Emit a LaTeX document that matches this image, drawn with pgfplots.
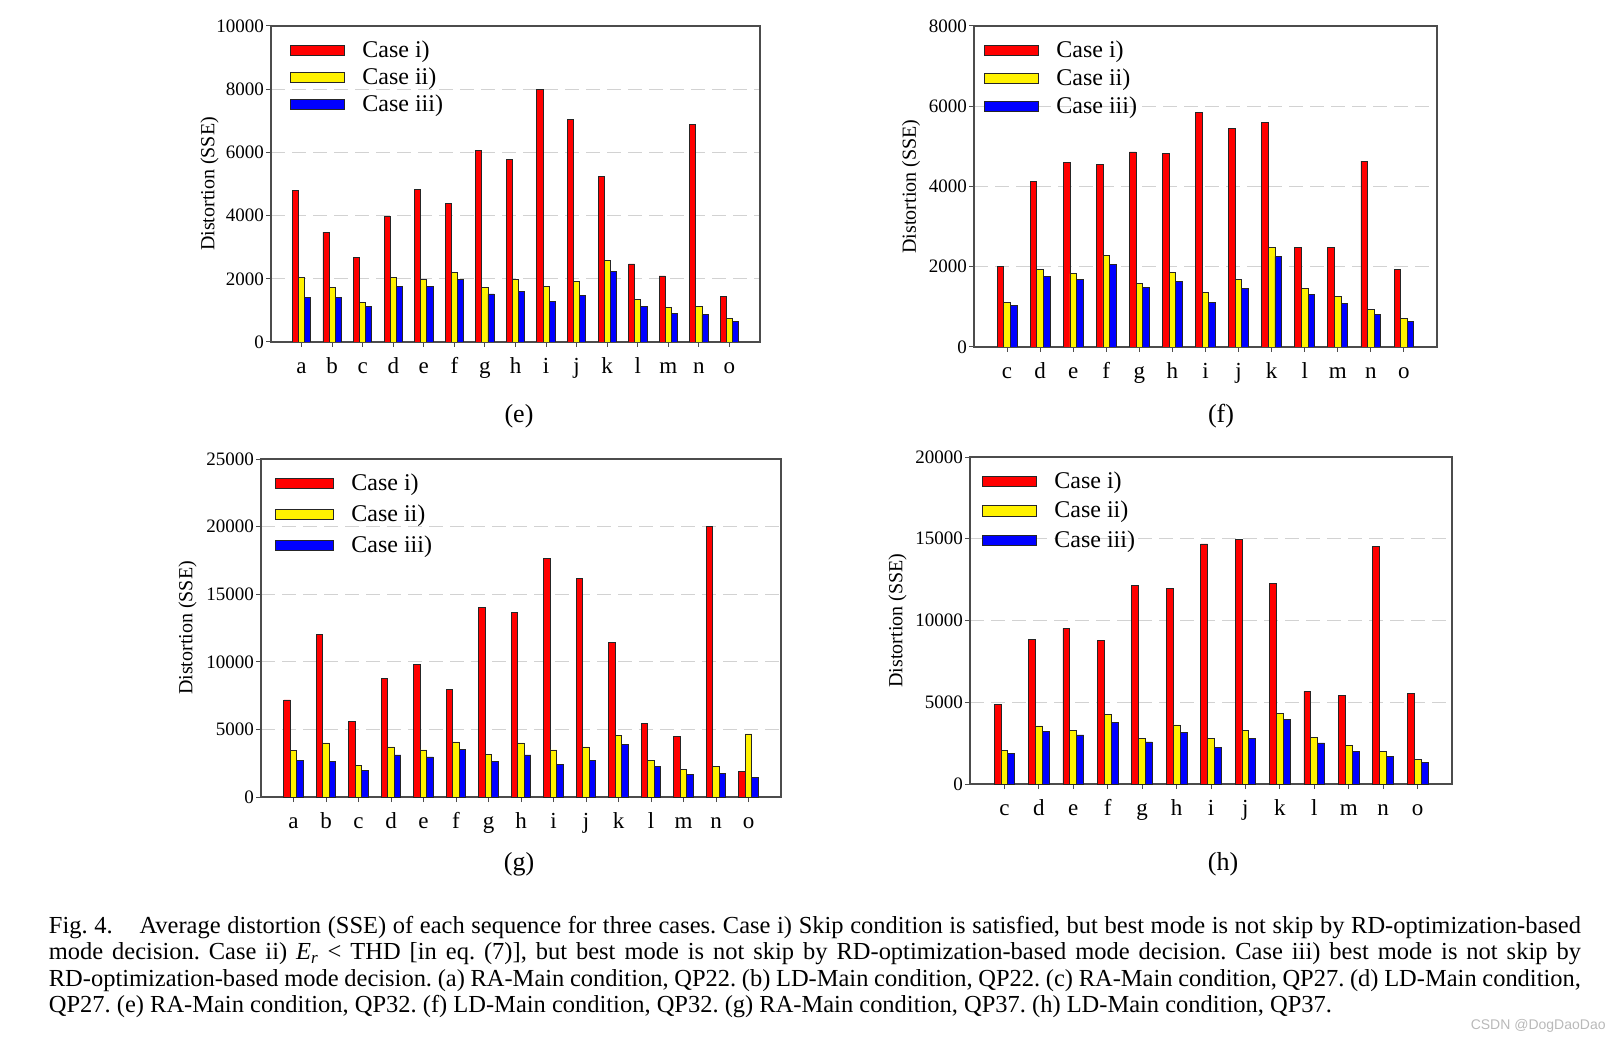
\documentclass[border=0pt]{standalone}
\usepackage{fontspec}
\setmainfont{Liberation Serif}
\setsansfont{Liberation Sans}
\usepackage{pgfplots}
\pgfplotsset{compat=1.18}
\usepackage{pgfplotstable}

\pgfplotstableread{
cat r y b
a 4790 2030 1420
b 3480 1740 1420
c 2670 1260 1130
d 3960 2030 1750
e 4830 1990 1750
f 4380 2190 1970
g 6070 1720 1520
h 5790 1990 1610
i 7980 1770 1280
j 7050 1930 1480
k 5250 2570 2220
l 2470 1350 1130
m 2090 1090 900
n 6880 1130 870
o 1450 740 650
}\dataE

\pgfplotstableread{
cat r y b
c 2010 1100 1040
d 4120 1930 1760
e 4600 1830 1680
f 4560 2290 2060
g 4860 1580 1480
h 4830 1850 1640
i 5850 1350 1120
j 5450 1680 1460
k 5590 2490 2260
l 2470 1450 1310
m 2470 1250 1080
n 4630 940 815
o 1940 710 640
}\dataF

\pgfplotstableread{
cat r y b
a 7180 3410 2710
b 11990 4000 2640
c 5580 2340 1970
d 8740 3700 3110
e 9800 3480 2960
f 7950 4070 3530
g 14040 3180 2640
h 13670 4000 3110
i 17650 3480 2420
j 16140 3700 2710
k 11400 4520 3920
l 5430 2710 2270
m 4470 2050 1680
n 20010 2270 1750
o 1900 4660 1430
}\dataG

\pgfplotstableread{
cat r y b
c 4850 2060 1880
d 8850 3550 3240
e 9520 3300 3000
f 8790 4240 3750
g 12150 2810 2570
h 11950 3610 3140
i 14680 2810 2260
j 14940 3300 2810
k 12270 4300 3930
l 5670 2870 2510
m 5420 2360 2000
n 14520 2000 1690
o 5550 1510 1330
}\dataH

\pgfplotsset{
  distaxis/.style={
    scale only axis, anchor=south west,
    ybar, bar width=0.2,
    ymin=0,
    axis line style={draw=black!70, line width=0.6pt},
    tick style={draw=black!70, line width=0.5pt},
    tick align=outside, xtick pos=bottom, ytick pos=left,
    major tick length=2.5pt,
    ymajorgrids, grid style={gray!35, line width=0.6pt, dash pattern=on 7pt off 3.5pt},
    yticklabel style={font=\fontsize{9.5}{10}\selectfont, /pgf/number format/1000 sep={}, xshift=2.5pt},
    xticklabel style={font=\fontsize{11.5}{12}\selectfont, text height=8pt, text depth=2.5pt, yshift=-1.5pt},
    scaled y ticks=false,
    /pgf/number format/assume math mode=true,
    ylabel={Distortion (SSE)},
    ylabel style={font=\fontsize{10}{11}\selectfont},
    legend style={draw=none, fill=none, font=\fontsize{12}{13}\selectfont,
      at={(0,1)}, anchor=north west, yshift=-3pt,
      cells={anchor=west},
      /tikz/every odd column/.append style={column sep=6.5pt}},
    legend image code/.code={\draw[##1, line width=0.5pt] (0pt,-2.6pt) rectangle (27pt,2.6pt);},
  },
  redbar/.style={fill=red, draw=black!85, line width=0.4pt, bar shift=-0.2},
  yelbar/.style={fill=yellow, draw=black!85, line width=0.4pt, bar shift=0},
  blubar/.style={fill=blue, draw=black!85, line width=0.4pt, bar shift=0.2},
}

\begin{document}
\begin{tikzpicture}
\useasboundingbox (0,0) rectangle (809pt,520pt);

% (e)
\begin{axis}[distaxis, at={(135.5pt,349pt)}, width=244.5pt, height=158pt,
  xmin=-1, xmax=15, xtick={0,...,14},
  xticklabels={a,b,c,d,e,f,g,h,i,j,k,l,m,n,o},
  ymax=10000, ytick={0,2000,...,10000},
  ylabel shift=-8pt,
  legend style={xshift=6.5pt, row sep=-0.2pt}]
\addplot[redbar] table[x expr=\coordindex, y=r]{\dataE};
\addplot[yelbar] table[x expr=\coordindex, y=y]{\dataE};
\addplot[blubar] table[x expr=\coordindex, y=b]{\dataE};
\legend{Case i),Case ii),Case iii)}
\end{axis}

% (f)
\begin{axis}[distaxis, at={(487pt,346.5pt)}, width=231.5pt, height=160.5pt,
  xmin=-1, xmax=13, xtick={0,...,12},
  xticklabels={c,d,e,f,g,h,i,j,k,l,m,n,o},
  ymax=8000, ytick={0,2000,...,8000},
  ylabel shift=-2.5pt,
  legend style={xshift=2pt, row sep=0.2pt}]
\addplot[redbar] table[x expr=\coordindex, y=r]{\dataF};
\addplot[yelbar] table[x expr=\coordindex, y=y]{\dataF};
\addplot[blubar] table[x expr=\coordindex, y=b]{\dataF};
\legend{Case i),Case ii),Case iii)}
\end{axis}

% (g)
\begin{axis}[distaxis, at={(130.5pt,121.5pt)}, width=260pt, height=169pt,
  xmin=-1, xmax=15, xtick={0,...,14},
  xticklabels={a,b,c,d,e,f,g,h,i,j,k,l,m,n,o},
  ymax=25000, ytick={0,5000,...,25000},
  ylabel shift=-2pt,
  legend style={xshift=4pt, row sep=1.8pt},
  legend image code/.code={\draw[#1, line width=0.5pt] (0pt,-2.6pt) rectangle (29pt,2.6pt);}]
\addplot[redbar] table[x expr=\coordindex, y=r]{\dataG};
\addplot[yelbar] table[x expr=\coordindex, y=y]{\dataG};
\addplot[blubar] table[x expr=\coordindex, y=b]{\dataG};
\legend{Case i),Case ii),Case iii)}
\end{axis}

% (h)
\begin{axis}[distaxis, at={(485pt,128pt)}, width=241pt, height=163.5pt,
  xmin=-1, xmax=13, xtick={0,...,12},
  xticklabels={c,d,e,f,g,h,i,j,k,l,m,n,o},
  ymax=20000, ytick={0,5000,...,20000},
  ylabel shift=-2.5pt,
  legend style={xshift=3pt, row sep=1pt}]
\addplot[redbar] table[x expr=\coordindex, y=r]{\dataH};
\addplot[yelbar] table[x expr=\coordindex, y=y]{\dataH};
\addplot[blubar] table[x expr=\coordindex, y=b]{\dataH};
\legend{Case i),Case ii),Case iii)}
\end{axis}

\node[font=\fontsize{13}{14}\selectfont] at (259.5pt,312pt) {(e)};
\node[font=\fontsize{13}{14}\selectfont] at (610.5pt,312pt) {(f)};
\node[font=\fontsize{13}{14}\selectfont] at (259.5pt,88pt) {(g)};
\node[font=\fontsize{13}{14}\selectfont] at (611.5pt,88pt) {(h)};

\node[anchor=north west, inner sep=0pt, text width=766pt, align=justify,
  font=\fontsize{12.24}{13.15}\selectfont] at (24.25pt,62pt)
{\frenchspacing\hyphenpenalty=10000\exhyphenpenalty=10000\emergencystretch=3em
Fig.~4.\hspace{1.1em}Average distortion (SSE) of each sequence for three cases. Case i) Skip condition is satisfied, but best mode is not skip by RD-optimization-based\linebreak
mode decision. Case ii) \textit{E\textsubscript{r}} < THD [in eq. (7)], but best mode is not skip by RD-optimization-based mode decision. Case iii) best mode is not skip by\linebreak
RD-optimization-based mode decision. (a) RA-Main condition, QP22. (b) LD-Main condition, QP22. (c) RA-Main condition, QP27. (d) LD-Main condition,\linebreak
QP27. (e) RA-Main condition, QP32. (f) LD-Main condition, QP32. (g) RA-Main condition, QP37. (h) LD-Main condition, QP37.\par};

\node[anchor=base east, inner sep=0pt, font=\sffamily\fontsize{7}{8}\selectfont, text=gray!55] at (803pt,5.5pt) {CSDN @DogDaoDao};
\end{tikzpicture}
\end{document}
